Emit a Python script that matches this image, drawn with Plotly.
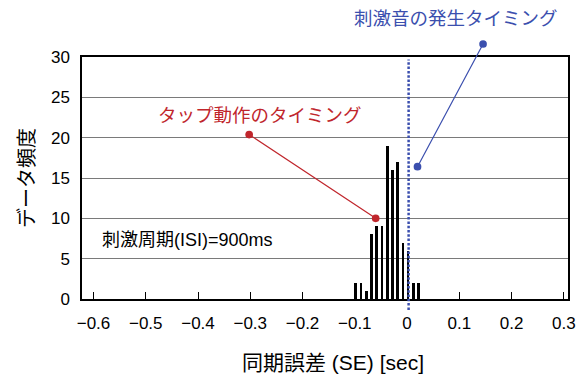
import plotly.graph_objects as go

# ---- data ----
bin_centers = [-0.098, -0.088, -0.078, -0.068, -0.058, -0.048, -0.038, -0.028, -0.018, -0.008, 0.002, 0.012, 0.022]
counts = [2, 2, 1, 8, 9, 9, 19, 16, 17, 7, 6, 2, 2]

x_ticks = [-0.6, -0.5, -0.4, -0.3, -0.2, -0.1, 0, 0.1, 0.2, 0.3]
x_ticktext = ["−0.6", "−0.5", "−0.4", "−0.3", "−0.2", "−0.1", "0", "0.1", "0.2", "0.3"]

stim_time = 0.003
tap_ptr_x = [-0.305, -0.060]
tap_ptr_y = [20.5, 10.0]
stim_ptr_x = [0.147, 0.020]
stim_ptr_y = [31.8, 16.4]

tap_label = "タップ動作のタイミング"
stim_label = "刺激音の発生タイミング"
isi_label = "刺激周期(ISI)=900ms"
x_title = "同期誤差 (SE) [sec]"
y_title = "データ頻度"

RED = "#c0262c"
BLUE = "#3b4fae"
FONT = "Liberation Sans, Arial, Noto Sans CJK JP, sans-serif"

fig = go.Figure()
fig.add_trace(go.Bar(x=bin_centers, y=counts, width=0.0052,
                     marker=dict(color="black", line=dict(width=0)),
                     showlegend=False, hoverinfo="skip"))

# dotted stimulus line
fig.add_shape(type="line", xref="x", yref="paper", x0=stim_time, x1=stim_time,
              y0=-0.045, y1=0.99, line=dict(color=BLUE, width=2.5, dash="2.5px,1.8px"))

# pointer lines with dots at both ends (annotations so they are not clipped)
for px, py, col in ((tap_ptr_x, tap_ptr_y, RED), (stim_ptr_x, stim_ptr_y, BLUE)):
    fig.add_annotation(x=px[1], y=py[1], ax=px[0], ay=py[0],
                       xref="x", yref="y", axref="x", ayref="y", text="", showarrow=True,
                       arrowside="end+start", arrowhead=6, startarrowhead=6,
                       arrowsize=1.6, startarrowsize=1.6,
                       arrowwidth=1.2, arrowcolor=col, standoff=0, startstandoff=0)

fig.add_annotation(x=-0.282, y=22.75, xref="x", yref="y", text=tap_label, showarrow=False,
                   font=dict(color=RED, size=18.5, family=FONT))
fig.add_annotation(x=0.094, y=1.161, xref="x", yref="paper", text=stim_label, showarrow=False,
                   yanchor="middle", font=dict(color=BLUE, size=18.5, family=FONT))
fig.add_annotation(x=-0.588, y=7.3, xref="x", yref="y", text=isi_label, showarrow=False,
                   xanchor="left", font=dict(color="black", size=18, family=FONT))
# x-axis title
fig.add_annotation(x=0.516, y=-0.264, xref="paper", yref="paper", text=x_title, showarrow=False,
                   xanchor="center", yanchor="middle", font=dict(color="black", size=21, family=FONT))

fig.update_layout(
    width=580, height=367,
    margin=dict(l=74, r=20, t=49, b=76, autoexpand=False),
    paper_bgcolor="white", plot_bgcolor="white",
    font=dict(family=FONT, color="black", size=17),
    bargap=0,
    xaxis=dict(range=[-0.622, 0.308], tickvals=x_ticks, ticktext=x_ticktext,
               ticks="inside", ticklen=7, tickcolor="black", tickwidth=1,
               showline=True, linecolor="black", linewidth=1.5, mirror=True,
               showgrid=False, zeroline=False, ticklabelstandoff=8,
               tickfont=dict(size=17), automargin=False),
    yaxis=dict(range=[0, 30], dtick=5, ticks="",
               showline=True, linecolor="black", linewidth=1.5, mirror=True,
               showgrid=True, gridcolor="#7a7a7a", gridwidth=1.4, zeroline=False,
               ticklabelstandoff=7, tickfont=dict(size=17), automargin=False,
               title=dict(text=y_title, font=dict(size=20), standoff=11)),
)

fig.write_html("out.html")
